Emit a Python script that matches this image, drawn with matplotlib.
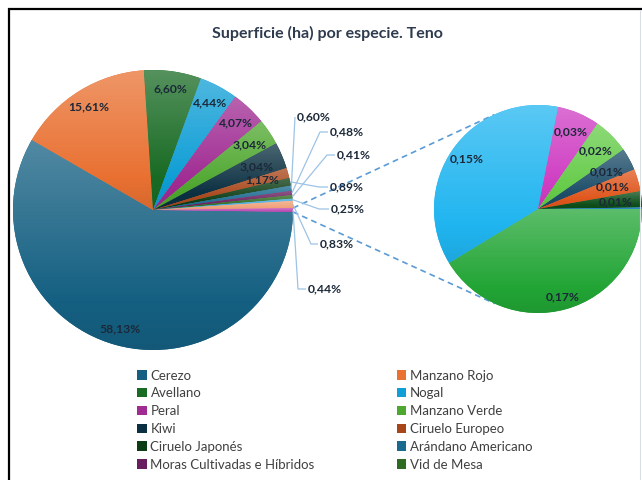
import numpy as np
import matplotlib
matplotlib.use("Agg")
import matplotlib.pyplot as plt
from matplotlib.patches import Patch
from matplotlib.colors import to_rgb

plt.rcParams['font.family'] = ['Lato', 'DejaVu Sans']

title = "Superficie (ha) por especie. Teno"

# ---- main pie (share of total surface, %) ----
legend_names = ["Cerezo", "Manzano Rojo", "Avellano", "Nogal", "Peral",
                "Manzano Verde", "Kiwi", "Ciruelo Europeo", "Ciruelo Japonés",
                "Arándano Americano", "Moras Cultivadas e Híbridos", "Vid de Mesa"]
main_vals = [58.13, 15.61, 6.60, 4.44, 4.07, 3.04, 3.04, 1.17,
             0.89, 0.60, 0.48, 0.41, 0.25, 0.83, 0.44]   # last = grouped "other"
main_colors = ["#156082", "#E97132", "#196B24", "#0F9ED5", "#A02B93", "#4EA72E",
               "#0B3041", "#A8461A", "#0D3D14", "#1A6A90", "#6A1D5E", "#2E6B20",
               "#3FA9E0", "#F0A27A", "#C04AB5"]

# ---- secondary pie (breakdown of the grouped slice, %) ----
sec_vals = [0.173, 0.154, 0.0275, 0.0236, 0.0145, 0.0145, 0.0105, 0.001]
sec_colors = ["#22A535", "#20B5F0", "#CF3EC3", "#66CC4A", "#1D4D69", "#E0561C",
              "#0D4F1A", "#1F86C5"]

# ---- layout (pixels) ----
H = 480
def P(x, y):
    return (x, H - y)

main_c, main_r = P(153, 210), 140
sec_c, sec_r = P(538, 209), 104
main_label_r = [0.88, 0.87, 0.875, 0.865, 0.86, 0.83, 0.80, 0.81]
sec_label_r = [0.88, 0.84, 0.81, 0.79, 0.75, 0.75, 0.75]
callout_pos = [(330, 187), (297, 117), (330, 132), (337, 155), (331, 209),
               (320, 244), (308, 289)]
callout_elbow = [9, 0, 8, 8, 10, 7, 8]
label_color = "#1B2838"


def fmt(v):
    return f"{v:.2f}".replace(".", ",") + "%"


fig = plt.figure(figsize=(6.42, 4.80), dpi=100)
ax = fig.add_axes([0, 0, 1, 1])


def shade(wedge, color):
    bb = wedge.get_path().get_extents()
    n = 80
    t = np.linspace(0, 1, n)[:, None]
    base = np.array(to_rgb(color))[None, :]
    mix = -0.08 + 0.34 * t
    rgb = np.where(mix > 0, base + (1 - base) * mix, base * (1 + mix))
    rgb = np.clip(rgb, 0, 1).reshape(n, 1, 3)
    im = ax.imshow(rgb, extent=(bb.x0, bb.x1, bb.y0, bb.y1), origin='lower',
                   aspect='auto', interpolation='bilinear', zorder=2)
    im.set_clip_path(wedge)


start = -main_vals[-1] / 2 * 3.6
w_main, _ = ax.pie(main_vals, colors=main_colors, startangle=start,
                   counterclock=False, center=main_c, radius=main_r,
                   wedgeprops=dict(linewidth=0))
w_sec, _ = ax.pie(sec_vals, colors=sec_colors, startangle=0,
                  counterclock=False, center=sec_c, radius=sec_r,
                  wedgeprops=dict(linewidth=0))
for w, c in zip(w_main, main_colors):
    shade(w, c)
for w, c in zip(w_sec, sec_colors):
    shade(w, c)

lab_kw = dict(ha='center', va='center', fontsize=8.7, fontweight='bold',
              color=label_color, zorder=5)

# in-slice labels, main pie
for i in range(8):
    w = w_main[i]
    a = np.deg2rad((w.theta1 + w.theta2) / 2)
    r = main_label_r[i] * main_r
    ax.text(main_c[0] + r * np.cos(a), main_c[1] + r * np.sin(a),
            fmt(main_vals[i]), **lab_kw)

# callout labels with leader lines
for k, i in enumerate(range(8, len(main_vals))):
    w = w_main[i]
    a = np.deg2rad((w.theta1 + w.theta2) / 2)
    ex, ey = main_c[0] + main_r * np.cos(a), main_c[1] + main_r * np.sin(a)
    lx, ly = P(*callout_pos[k])
    sx = lx - 2
    ax.plot([sx, sx - callout_elbow[k], ex], [ly, ly, ey], color="#9DC3E6",
            lw=0.9, zorder=4, solid_capstyle='butt')
    ax.text(lx, ly, fmt(main_vals[i]), ha='left', va='center', fontsize=8.7,
            fontweight='bold', color=label_color, zorder=5)

# secondary labels
for i in range(7):
    w = w_sec[i]
    a = np.deg2rad((w.theta1 + w.theta2) / 2)
    r = sec_label_r[i] * sec_r
    ax.text(sec_c[0] + r * np.cos(a), sec_c[1] + r * np.sin(a),
            fmt(sec_vals[i]), **lab_kw)

# dashed connectors: from grouped slice edges to tangent points of the secondary pie
wo = w_main[-1]
for th, sgn in ((wo.theta2, 1), (wo.theta1, -1)):
    px = main_c[0] + main_r * np.cos(np.deg2rad(th))
    py = main_c[1] + main_r * np.sin(np.deg2rad(th))
    dx, dy = px - sec_c[0], py - sec_c[1]
    d = np.hypot(dx, dy)
    phi = np.arctan2(dy, dx) - sgn * np.arccos(sec_r / d)
    tx, ty = sec_c[0] + sec_r * np.cos(phi), sec_c[1] + sec_r * np.sin(phi)
    ax.plot([px, tx], [py, ty], color="#5B9BD5", lw=1.2, ls=(0, (3.5, 2.5)),
            zorder=1)

# title
ax.text(327, H - 33, title, ha='center', va='center', fontsize=11.5,
        fontweight='bold', color="#2E3B4E")

# legend (row-wise order in two columns)
handles = [Patch(facecolor=main_colors[i], edgecolor='none', label=legend_names[i])
           for i in range(len(legend_names))]
order = list(range(0, 12, 2)) + list(range(1, 12, 2))
leg = ax.legend([handles[i] for i in order], [legend_names[i] for i in order],
                ncol=2, loc='upper left', bbox_to_anchor=(137 / 642, 1 - 369.5 / 480),
                bbox_transform=fig.transFigure, frameon=False, fontsize=9.5,
                handlelength=0.72, handleheight=0.72, handletextpad=0.3,
                labelspacing=0.44, columnspacing=6.2, borderpad=0,
                borderaxespad=0, labelcolor="#404040")

# frame of the screenshot
ax.plot([9, 9, 642], [0, H - 9, H - 9], color="black", lw=1.6, zorder=6,
        solid_joinstyle='miter')
ax.plot([640, 640], [0, H - 11], color="#D9DEE5", lw=0.8, zorder=6)

ax.set_xlim(0, 642)
ax.set_ylim(0, H)
ax.set_aspect('auto')
ax.axis('off')
fig.savefig("out.png", dpi=100)
